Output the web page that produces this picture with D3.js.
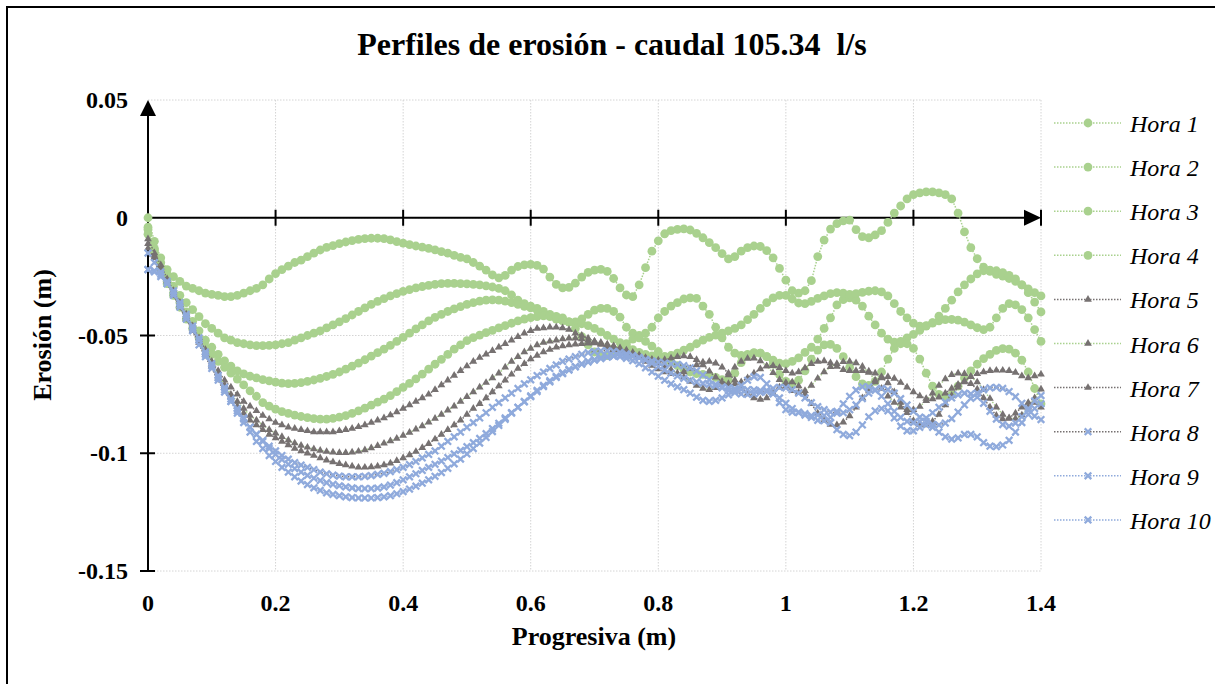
<!DOCTYPE html>
<html>
<head>
<meta charset="utf-8">
<script src="https://cdn.jsdelivr.net/npm/d3@7"></script>
<style>
  html, body { margin: 0; padding: 0; background: #ffffff; }
  svg { display: block; }
  text { font-family: "Liberation Serif", "Times New Roman", serif; fill: #000; }
</style>
</head>
<body>
<svg id="chart" width="1215" height="684"></svg>
<script>
// Stations along the channel (m)
const progresiva = [
  0, 0.01, 0.02, 0.03, 0.04, 0.05, 0.06, 0.07, 0.08, 0.09,
  0.10, 0.11, 0.12, 0.13, 0.14, 0.15, 0.16, 0.17, 0.18, 0.19,
  0.20, 0.21, 0.22, 0.23, 0.24, 0.25, 0.26, 0.27, 0.28, 0.29,
  0.30, 0.31, 0.32, 0.33, 0.34, 0.35, 0.36, 0.37, 0.38, 0.39,
  0.40, 0.41, 0.42, 0.43, 0.44, 0.45, 0.46, 0.47, 0.48, 0.49,
  0.50, 0.51, 0.52, 0.53, 0.54, 0.55, 0.56, 0.57, 0.58, 0.59,
  0.60, 0.61, 0.62, 0.63, 0.64, 0.65, 0.66, 0.67, 0.68, 0.69,
  0.70, 0.71, 0.72, 0.73, 0.74, 0.75, 0.76, 0.77, 0.78, 0.79,
  0.80, 0.81, 0.82, 0.83, 0.84, 0.85, 0.86, 0.87, 0.88, 0.89,
  0.90, 0.91, 0.92, 0.93, 0.94, 0.95, 0.96, 0.97, 0.98, 0.99,
  1.00, 1.01, 1.02, 1.03, 1.04, 1.05, 1.06, 1.07, 1.08, 1.09,
  1.10, 1.11, 1.12, 1.13, 1.14, 1.15, 1.16, 1.17, 1.18, 1.19,
  1.20, 1.21, 1.22, 1.23, 1.24, 1.25, 1.26, 1.27, 1.28, 1.29,
  1.30, 1.31, 1.32, 1.33, 1.34, 1.35, 1.36, 1.37, 1.38, 1.39,
  1.40
];

// Erosion profiles (m), one array per hour
const hora1 = [
  0, -0.010, -0.017, -0.022, -0.025, -0.027, -0.029, -0.030, -0.031, -0.032,
  -0.0325, -0.033, -0.0335, -0.0335, -0.033, -0.032, -0.031, -0.030, -0.0285, -0.026,
  -0.0237, -0.022, -0.0205, -0.019, -0.018, -0.0165, -0.015, -0.0137, -0.0126, -0.0118,
  -0.011, -0.0103, -0.0097, -0.0092, -0.0089, -0.0087, -0.0087, -0.0089, -0.0094, -0.0101,
  -0.0108, -0.0114, -0.012, -0.0125, -0.013, -0.0136, -0.0144, -0.015, -0.016, -0.0168,
  -0.0175, -0.019, -0.0205, -0.0222, -0.0243, -0.0255, -0.0245, -0.0222, -0.0207, -0.020,
  -0.0198, -0.0202, -0.0218, -0.0252, -0.0283, -0.0298, -0.0296, -0.0278, -0.0252, -0.0232,
  -0.0222, -0.0219, -0.0228, -0.0258, -0.0298, -0.0328, -0.0335, -0.0285, -0.0212, -0.0142,
  -0.0098, -0.0068, -0.0055, -0.0049, -0.0047, -0.0052, -0.0066, -0.0085, -0.0106, -0.0127,
  -0.0152, -0.0175, -0.0165, -0.0142, -0.0127, -0.012, -0.0122, -0.014, -0.017, -0.0215,
  -0.0265, -0.031, -0.032, -0.031, -0.0267, -0.0165, -0.0095, -0.0048, -0.0025, -0.0013,
  -0.001, -0.005, -0.008, -0.0085, -0.0073, -0.0055, -0.002, 0.002, 0.005, 0.008,
  0.0098, 0.0106, 0.011, 0.011, 0.0106, 0.0098, 0.008, 0.002, -0.006, -0.0127,
  -0.0174, -0.021, -0.0228, -0.024, -0.0248, -0.0258, -0.027, -0.0285, -0.0302, -0.0318,
  -0.0332
];
const hora2 = [
  -0.004, -0.013, -0.019, -0.024, -0.029, -0.033, -0.036, -0.039, -0.042, -0.045,
  -0.047, -0.049, -0.051, -0.052, -0.053, -0.0535, -0.054, -0.0543, -0.0543, -0.0542,
  -0.054, -0.0535, -0.053, -0.052, -0.051, -0.050, -0.049, -0.048, -0.0468, -0.0455,
  -0.0442, -0.0428, -0.0413, -0.0398, -0.0383, -0.0368, -0.0355, -0.0343, -0.0332, -0.0322,
  -0.0313, -0.0305, -0.0298, -0.0292, -0.0287, -0.0283, -0.028, -0.0279, -0.0279, -0.028,
  -0.0281, -0.0283, -0.0285, -0.0289, -0.0294, -0.030, -0.031, -0.0328, -0.035, -0.0365,
  -0.0375, -0.0385, -0.0398, -0.041, -0.0425, -0.0437, -0.0443, -0.0442, -0.043, -0.041,
  -0.0392, -0.0385, -0.0385, -0.0398, -0.0422, -0.0465, -0.049, -0.050, -0.049, -0.0465,
  -0.0425, -0.0398, -0.0375, -0.036, -0.0345, -0.034, -0.0342, -0.0375, -0.041, -0.0465,
  -0.051, -0.055, -0.0575, -0.0585, -0.058, -0.0573, -0.0575, -0.059, -0.0605, -0.0617,
  -0.062, -0.061, -0.0595, -0.0572, -0.055, -0.0515, -0.047, -0.0425, -0.037, -0.0348,
  -0.034, -0.035, -0.0375, -0.0418, -0.0455, -0.049, -0.0515, -0.0528, -0.0525, -0.051,
  -0.0495, -0.0478, -0.046, -0.0447, -0.0438, -0.0433, -0.0432, -0.0435, -0.0443, -0.0455,
  -0.0467, -0.0475, -0.0465, -0.0425, -0.0385, -0.0365, -0.037, -0.039, -0.0425, -0.0475,
  -0.0525
];
const hora3 = [
  -0.005, -0.014, -0.021, -0.027, -0.032, -0.036, -0.040, -0.044, -0.048, -0.052,
  -0.055, -0.058, -0.0608, -0.063, -0.065, -0.0663, -0.0673, -0.068, -0.0687, -0.0693,
  -0.0698, -0.0702, -0.0704, -0.0703, -0.070, -0.0695, -0.0689, -0.0682, -0.0674, -0.0665,
  -0.0655, -0.0643, -0.063, -0.0617, -0.0603, -0.0588, -0.0573, -0.0558, -0.0542, -0.0525,
  -0.0508, -0.049, -0.0472, -0.0455, -0.0438, -0.0423, -0.041, -0.0398, -0.0387, -0.0377,
  -0.0368, -0.036, -0.0354, -0.035, -0.0349, -0.035, -0.0354, -0.036, -0.0368, -0.0376,
  -0.0383, -0.0392, -0.0405, -0.042, -0.043, -0.0437, -0.0442, -0.0447, -0.045, -0.0458,
  -0.047, -0.0485, -0.050, -0.0515, -0.053, -0.0545, -0.056, -0.0572, -0.058, -0.0587,
  -0.059, -0.059, -0.0585, -0.0575, -0.0562, -0.055, -0.0535, -0.052, -0.0508, -0.0498,
  -0.049, -0.048, -0.047, -0.0455, -0.0433, -0.041, -0.0385, -0.036, -0.034, -0.033,
  -0.033, -0.0345, -0.0362, -0.0365, -0.0355, -0.0342, -0.0332, -0.0322, -0.0318, -0.032,
  -0.0325, -0.0322, -0.0317, -0.0312, -0.031, -0.0315, -0.0332, -0.0365, -0.0398, -0.0425,
  -0.0448, -0.046, -0.0458, -0.0445, -0.0418, -0.0385, -0.035, -0.0315, -0.0285, -0.026,
  -0.0238, -0.0225, -0.0222, -0.0225, -0.0233, -0.0245, -0.026, -0.0285, -0.0318, -0.0358,
  -0.040
];
const hora4 = [
  -0.007, -0.015, -0.022, -0.028, -0.033, -0.038, -0.043, -0.047, -0.051, -0.055,
  -0.058, -0.061, -0.0635, -0.066, -0.0685, -0.071, -0.0735, -0.0758, -0.0785, -0.080,
  -0.0813, -0.0823, -0.0831, -0.0838, -0.0844, -0.0849, -0.0853, -0.0855, -0.0855, -0.0852,
  -0.0847, -0.084, -0.0831, -0.082, -0.0808, -0.0796, -0.0783, -0.077, -0.0755, -0.0738,
  -0.072, -0.0703, -0.0684, -0.0664, -0.0643, -0.0622, -0.0601, -0.058, -0.0558, -0.054,
  -0.0522, -0.0509, -0.0498, -0.0488, -0.0478, -0.0468, -0.0458, -0.0448, -0.0438, -0.043,
  -0.0424, -0.042, -0.0417, -0.0416, -0.0419, -0.0425, -0.0442, -0.047, -0.0505, -0.054,
  -0.057, -0.0585, -0.0585, -0.0575, -0.0558, -0.0535, -0.0515, -0.051, -0.0525, -0.0545,
  -0.0568, -0.059, -0.0612, -0.0628, -0.0643, -0.0655, -0.0662, -0.0665, -0.0668, -0.0678,
  -0.0688, -0.069, -0.066, -0.0615, -0.0585, -0.0575, -0.0575, -0.059, -0.0622, -0.0665,
  -0.0695, -0.0705, -0.069, -0.065, -0.060, -0.0562, -0.054, -0.0538, -0.0555, -0.059,
  -0.0635, -0.0675, -0.0705, -0.0712, -0.0695, -0.0655, -0.060, -0.0555, -0.0535, -0.0535,
  -0.0555, -0.060, -0.066, -0.0715, -0.075, -0.0762, -0.0752, -0.0715, -0.068, -0.065,
  -0.0622, -0.0598, -0.058, -0.0563, -0.0556, -0.0558, -0.0575, -0.0605, -0.0655, -0.0725,
  -0.079
];
const hora5 = [
  -0.009, -0.015, -0.020, -0.026, -0.031, -0.036, -0.041, -0.046, -0.051, -0.056,
  -0.061, -0.065, -0.069, -0.072, -0.075, -0.078, -0.080, -0.082, -0.084, -0.0855,
  -0.087, -0.088, -0.089, -0.0895, -0.090, -0.0905, -0.091, -0.091, -0.091, -0.091,
  -0.0905, -0.090, -0.0895, -0.0888, -0.088, -0.087, -0.086, -0.085, -0.0838, -0.0825,
  -0.081, -0.0795, -0.078, -0.0765, -0.075, -0.073, -0.071, -0.069, -0.067, -0.065,
  -0.063, -0.061, -0.0594, -0.058, -0.0565, -0.055, -0.0535, -0.052, -0.0505, -0.049,
  -0.048, -0.047, -0.0468, -0.0465, -0.0465, -0.0468, -0.0475, -0.049, -0.050, -0.0512,
  -0.0525, -0.0538, -0.055, -0.0562, -0.0572, -0.058, -0.0587, -0.0593, -0.0598, -0.0602,
  -0.0605, -0.0603, -0.0597, -0.059, -0.0587, -0.059, -0.0603, -0.0625, -0.0652, -0.0677,
  -0.0695, -0.0705, -0.0706, -0.0697, -0.068, -0.066, -0.0642, -0.063, -0.0628, -0.0637,
  -0.065, -0.066, -0.0655, -0.0638, -0.062, -0.061, -0.0608, -0.0617, -0.0632, -0.0645,
  -0.065, -0.065, -0.065, -0.0652, -0.066, -0.0675, -0.0702, -0.074, -0.0785, -0.0828,
  -0.0862, -0.0878, -0.088, -0.0865, -0.0835, -0.0795, -0.0755, -0.072, -0.0693, -0.0675,
  -0.0663, -0.0655, -0.065, -0.0648, -0.0648, -0.065, -0.0657, -0.0672, -0.068, -0.0672,
  -0.0665
];
const hora6 = [
  -0.011, -0.016, -0.021, -0.027, -0.032, -0.037, -0.042, -0.047, -0.052, -0.057,
  -0.062, -0.067, -0.071, -0.075, -0.078, -0.081, -0.084, -0.086, -0.088, -0.090,
  -0.0915, -0.093, -0.0945, -0.0957, -0.0967, -0.0975, -0.0982, -0.0988, -0.0993, -0.0996,
  -0.0998, -0.0998, -0.0996, -0.0992, -0.0986, -0.0978, -0.0968, -0.0958, -0.0948, -0.0937,
  -0.0925, -0.0912, -0.0898, -0.0884, -0.0868, -0.0852, -0.0835, -0.0817, -0.080, -0.078,
  -0.076, -0.074, -0.072, -0.070, -0.068, -0.066, -0.0635, -0.061, -0.059, -0.057,
  -0.0555, -0.054, -0.053, -0.0525, -0.052, -0.0515, -0.0512, -0.0512, -0.0515, -0.052,
  -0.0525, -0.053, -0.0537, -0.0545, -0.0553, -0.0562, -0.0572, -0.0583, -0.0594, -0.0605,
  -0.0617, -0.063, -0.0645, -0.066, -0.0677, -0.0695, -0.0712, -0.0725, -0.073, -0.0722,
  -0.070, -0.0668, -0.0635, -0.061, -0.0598, -0.0597, -0.0608, -0.063, -0.0658, -0.0688,
  -0.0715, -0.0735, -0.0742, -0.0735, -0.0712, -0.0682, -0.0655, -0.0633, -0.062, -0.0612,
  -0.061, -0.0617, -0.0632, -0.0657, -0.069, -0.0725, -0.0758, -0.0785, -0.0805, -0.0815,
  -0.0815, -0.0802, -0.0777, -0.0745, -0.0712, -0.0685, -0.0667, -0.066, -0.0662, -0.0675,
  -0.0698, -0.073, -0.0768, -0.0805, -0.0835, -0.0852, -0.0853, -0.0838, -0.0805, -0.0765,
  -0.0728
];
const hora7 = [
  -0.013, -0.017, -0.022, -0.027, -0.033, -0.038, -0.043, -0.048, -0.053, -0.058,
  -0.063, -0.068, -0.072, -0.076, -0.080, -0.083, -0.086, -0.088, -0.090, -0.092,
  -0.0935, -0.095, -0.0965, -0.098, -0.099, -0.100, -0.101, -0.102, -0.103, -0.1037,
  -0.1045, -0.105, -0.1055, -0.106, -0.106, -0.1058, -0.1055, -0.105, -0.1042, -0.1032,
  -0.102, -0.1007, -0.0993, -0.0977, -0.096, -0.094, -0.092, -0.090, -0.088, -0.086,
  -0.0835, -0.081, -0.079, -0.0765, -0.074, -0.0715, -0.069, -0.0665, -0.064, -0.062,
  -0.060, -0.0585, -0.057, -0.056, -0.055, -0.0545, -0.054, -0.0537, -0.0535, -0.0533,
  -0.0532, -0.0535, -0.054, -0.0548, -0.0557, -0.0568, -0.058, -0.0595, -0.061, -0.0627,
  -0.0642, -0.0655, -0.0662, -0.0663, -0.0655, -0.064, -0.0625, -0.0613, -0.061, -0.0618,
  -0.0635, -0.066, -0.069, -0.072, -0.0748, -0.0765, -0.0772, -0.0765, -0.0745, -0.072,
  -0.070, -0.0698, -0.0715, -0.0748, -0.079, -0.083, -0.086, -0.0878, -0.088, -0.0868,
  -0.0842, -0.0805, -0.0765, -0.0728, -0.0698, -0.068, -0.0675, -0.0683, -0.070, -0.072,
  -0.074, -0.0757, -0.0768, -0.077, -0.0762, -0.0745, -0.0725, -0.0708, -0.0698, -0.0705,
  -0.0728, -0.0765, -0.0805, -0.084, -0.0855, -0.085, -0.083, -0.0805, -0.0785, -0.0785,
  -0.0805
];
const hora8 = [
  -0.015, -0.019, -0.023, -0.028, -0.033, -0.038, -0.043, -0.048, -0.054, -0.059,
  -0.064, -0.069, -0.074, -0.078, -0.082, -0.0855, -0.089, -0.092, -0.0945, -0.097,
  -0.099, -0.101, -0.1025, -0.104, -0.105, -0.106, -0.107, -0.108, -0.1087, -0.1093,
  -0.1097, -0.110, -0.110, -0.110, -0.1098, -0.1095, -0.109, -0.1085, -0.1078, -0.107,
  -0.106, -0.1048, -0.1035, -0.102, -0.1005, -0.099, -0.097, -0.095, -0.093, -0.091,
  -0.089, -0.087, -0.085, -0.0828, -0.0805, -0.0785, -0.0765, -0.0745, -0.0725, -0.0705,
  -0.0688, -0.067, -0.0655, -0.064, -0.0625, -0.061, -0.060, -0.059, -0.058, -0.0573,
  -0.0568, -0.0565, -0.0565, -0.0567, -0.0572, -0.0578, -0.0585, -0.0593, -0.0601, -0.0608,
  -0.0613, -0.0617, -0.062, -0.0623, -0.0628, -0.0637, -0.065, -0.0668, -0.0688, -0.0707,
  -0.0722, -0.0735, -0.0743, -0.0748, -0.075, -0.0748, -0.0742, -0.0733, -0.0725, -0.072,
  -0.0722, -0.073, -0.0745, -0.0765, -0.0785, -0.0802, -0.0815, -0.0825, -0.083, -0.0828,
  -0.0815, -0.0795, -0.0768, -0.0745, -0.073, -0.0725, -0.073, -0.0745, -0.0768, -0.0795,
  -0.0822, -0.0847, -0.0865, -0.0877, -0.088, -0.0872, -0.0853, -0.0825, -0.0795, -0.0767,
  -0.0745, -0.073, -0.0722, -0.072, -0.0725, -0.0738, -0.076, -0.0788, -0.0818, -0.0842,
  -0.0857
];
const hora9 = [
  -0.022, -0.0225, -0.024, -0.027, -0.031, -0.036, -0.041, -0.046, -0.051, -0.057,
  -0.062, -0.067, -0.072, -0.077, -0.081, -0.085, -0.089, -0.092, -0.095, -0.098,
  -0.1005, -0.1027, -0.1047, -0.1065, -0.108, -0.1094, -0.1106, -0.1116, -0.1125, -0.1132,
  -0.1138, -0.1143, -0.1147, -0.115, -0.115, -0.115, -0.1148, -0.1143, -0.1135, -0.1125,
  -0.1113, -0.110, -0.1087, -0.1073, -0.106, -0.1047, -0.1033, -0.1018, -0.1003, -0.0988,
  -0.0972, -0.0955, -0.0937, -0.0917, -0.0895, -0.0873, -0.085, -0.0827, -0.0805, -0.0782,
  -0.076, -0.0738, -0.0717, -0.0697, -0.0678, -0.0662, -0.0647, -0.0633, -0.062, -0.061,
  -0.0602, -0.0595, -0.059, -0.0587, -0.059, -0.0597, -0.0607, -0.062, -0.0637, -0.0655,
  -0.0673, -0.069, -0.0705, -0.0718, -0.073, -0.0745, -0.0762, -0.0775, -0.078, -0.0775,
  -0.0765, -0.0752, -0.0735, -0.0712, -0.069, -0.0675, -0.0678, -0.0705, -0.0745, -0.0785,
  -0.0815, -0.0825, -0.0825, -0.0832, -0.0848, -0.086, -0.0862, -0.0848, -0.0822, -0.079,
  -0.0758, -0.0732, -0.0718, -0.0718, -0.0733, -0.0758, -0.079, -0.0822, -0.0848, -0.0865,
  -0.087, -0.0865, -0.085, -0.0828, -0.0805, -0.0783, -0.0765, -0.0752, -0.0745, -0.0748,
  -0.0762, -0.0788, -0.0822, -0.0855, -0.0878, -0.0885, -0.0872, -0.0845, -0.081, -0.0778,
  -0.0755
];
const hora10 = [
  -0.022, -0.023, -0.025, -0.028, -0.032, -0.037, -0.042, -0.047, -0.052, -0.058,
  -0.063, -0.068, -0.073, -0.078, -0.083, -0.087, -0.091, -0.095, -0.098, -0.101,
  -0.1035, -0.106, -0.108, -0.110, -0.1118, -0.1133, -0.1147, -0.1158, -0.1168, -0.1175,
  -0.118, -0.1185, -0.1188, -0.119, -0.119, -0.119, -0.1188, -0.1185, -0.118, -0.1172,
  -0.1163, -0.1152, -0.114, -0.1127, -0.1113, -0.1098, -0.1082, -0.1064, -0.1045, -0.1025,
  -0.1003, -0.098, -0.0957, -0.0933, -0.0908, -0.0882, -0.0856, -0.083, -0.0805, -0.078,
  -0.0756, -0.0733, -0.0712, -0.0692, -0.0674, -0.0658, -0.0644, -0.0632, -0.0622, -0.0613,
  -0.0605, -0.0598, -0.0592, -0.0588, -0.0585, -0.0585, -0.0588, -0.0595, -0.0605, -0.0618,
  -0.0632, -0.0647, -0.066, -0.0672, -0.0682, -0.069, -0.0697, -0.0703, -0.0708, -0.0713,
  -0.0718, -0.0722, -0.0726, -0.0729, -0.073, -0.0731, -0.0733, -0.0738, -0.0748, -0.0765,
  -0.0788, -0.081, -0.0828, -0.0838, -0.084, -0.0838, -0.084, -0.087, -0.090, -0.092,
  -0.0925, -0.091, -0.088, -0.0845, -0.082, -0.081, -0.082, -0.085, -0.0885, -0.0905,
  -0.0905, -0.089, -0.088, -0.089, -0.091, -0.093, -0.094, -0.0935, -0.092, -0.092,
  -0.093, -0.0955, -0.097, -0.0972, -0.0965, -0.0945, -0.091, -0.087, -0.0835, -0.081,
  -0.079
];

const seriesNames = ["Hora 1", "Hora 2", "Hora 3", "Hora 4", "Hora 5",
                     "Hora 6", "Hora 7", "Hora 8", "Hora 9", "Hora 10"];
const seriesValues = [hora1, hora2, hora3, hora4, hora5, hora6, hora7, hora8, hora9, hora10];

const xTicks = [0, 0.2, 0.4, 0.6, 0.8, 1, 1.2, 1.4];
const xTickLabels = ["0", "0.2", "0.4", "0.6", "0.8", "1", "1.2", "1.4"];
const yTicks = [0.05, 0, -0.05, -0.1, -0.15];
const yTickLabels = ["0.05", "0", "-0.05", "-0.1", "-0.15"];

const chartTitle = "Perfiles de erosión - caudal 105.34  l/s";
const xTitle = "Progresiva (m)";
const yTitle = "Erosión (m)";

// Colours and marker shapes
const GREEN = "#A9D18E", GREY = "#767171", BLUE = "#8FAADC";
const seriesStyle = [
  { line: GREEN, mark: GREEN, shape: "circle" },
  { line: GREEN, mark: GREEN, shape: "circle" },
  { line: GREEN, mark: GREEN, shape: "circle" },
  { line: GREEN, mark: GREEN, shape: "circle" },
  { line: GREY,  mark: GREY,  shape: "triangle" },
  { line: GREEN, mark: GREY,  shape: "triangle" },
  { line: GREY,  mark: GREY,  shape: "triangle" },
  { line: GREY,  mark: BLUE,  shape: "cross" },
  { line: BLUE,  mark: BLUE,  shape: "cross" },
  { line: BLUE,  mark: BLUE,  shape: "cross" }
];

const svg = d3.select("#chart");

// Outer frame
svg.append("rect")
  .attr("x", 7).attr("y", 7).attr("width", 1240).attr("height", 720)
  .attr("fill", "none").attr("stroke", "#000").attr("stroke-width", 2);

const x = d3.scaleLinear().domain([0, 1.4]).range([148, 1041]);
const y = d3.scaleLinear().domain([-0.15, 0.05]).range([571, 100]);

// Gridlines
const grid = svg.append("g").attr("stroke", "#d4d4d4").attr("stroke-width", 1)
  .attr("stroke-dasharray", "1.5,1.5");
grid.selectAll("line.v").data(xTicks.slice(1)).join("line")
  .attr("x1", d => x(d)).attr("x2", d => x(d))
  .attr("y1", y(0.05)).attr("y2", y(-0.15));
grid.selectAll("line.h").data(yTicks).join("line")
  .attr("x1", x(0)).attr("x2", x(1.4))
  .attr("y1", d => y(d)).attr("y2", d => y(d));

// Axes: vertical at x = 0, horizontal at erosion = 0
const axes = svg.append("g").attr("stroke", "#000").attr("stroke-width", 2);
axes.append("line").attr("x1", x(0)).attr("x2", x(0))
  .attr("y1", y(0.05) + 14).attr("y2", y(-0.15));
axes.append("line").attr("x1", x(0)).attr("x2", x(1.4) - 14)
  .attr("y1", y(0)).attr("y2", y(0));
axes.selectAll("line.yt").data(yTicks.filter(d => d !== 0 && d !== 0.05)).join("line")
  .attr("x1", x(0) - 8).attr("x2", x(0) + 7)
  .attr("y1", d => y(d)).attr("y2", d => y(d));
axes.selectAll("line.xt").data(xTicks.slice(1)).join("line")
  .attr("x1", d => x(d)).attr("x2", d => x(d))
  .attr("y1", y(0) - 8).attr("y2", y(0) + 8);
// Arrowheads
svg.append("path")
  .attr("d", `M${x(0)},${y(0.05)} L${x(0) - 8},${y(0.05) + 16} L${x(0) + 8},${y(0.05) + 16} Z`)
  .attr("fill", "#000");
svg.append("path")
  .attr("d", `M${x(1.4)},${y(0)} L${x(1.4) - 17},${y(0) - 8} L${x(1.4) - 17},${y(0) + 8} Z`)
  .attr("fill", "#000");

// Tick labels
svg.append("g").selectAll("text").data(yTicks).join("text")
  .attr("x", 128).attr("y", d => y(d) + 8)
  .attr("text-anchor", "end")
  .style("font-size", "24px").style("font-weight", "bold")
  .text((d, i) => yTickLabels[i]);
svg.append("g").selectAll("text").data(xTicks).join("text")
  .attr("x", d => x(d)).attr("y", 611)
  .attr("text-anchor", "middle")
  .style("font-size", "24px").style("font-weight", "bold")
  .text((d, i) => xTickLabels[i]);

// Titles
svg.append("text").attr("x", 612).attr("y", 55)
  .attr("text-anchor", "middle")
  .style("font-size", "32px").style("font-weight", "bold").style("white-space", "pre")
  .text(chartTitle);
svg.append("text").attr("x", 594).attr("y", 645)
  .attr("text-anchor", "middle")
  .style("font-size", "26px").style("font-weight", "bold")
  .text(xTitle);
svg.append("text").attr("transform", "translate(51,335) rotate(-90)")
  .attr("text-anchor", "middle")
  .style("font-size", "26px").style("font-weight", "bold")
  .text(yTitle);

// Marker drawing
function drawMarker(sel, shape, colour) {
  if (shape === "circle") {
    sel.append("circle").attr("r", 4.4).attr("fill", colour);
  } else if (shape === "triangle") {
    sel.append("path").attr("d", d3.symbol(d3.symbolTriangle, 26)()).attr("fill", colour);
  } else {
    sel.append("path").attr("d", "M-3.3,-3.3L3.3,3.3M-3.3,3.3L3.3,-3.3")
      .attr("stroke", colour).attr("stroke-width", 2.3).attr("fill", "none");
  }
}

const lineGen = d3.line().x(d => x(d[0])).y(d => y(d[1]));

// Series
seriesValues.forEach((vals, i) => {
  const st = seriesStyle[i];
  const pts = progresiva.map((p, k) => [p, vals[k]]);
  const g = svg.append("g");
  g.append("path").attr("d", lineGen(pts))
    .attr("fill", "none").attr("stroke", st.line).attr("stroke-width", 1.5)
    .attr("stroke-dasharray", "1.5,1.5");
  g.selectAll("g.m").data(pts).join("g")
    .attr("transform", d => `translate(${x(d[0])},${y(d[1])})`)
    .each(function () { drawMarker(d3.select(this), st.shape, st.mark); });
});

// Legend
const legend = svg.append("g");
seriesNames.forEach((name, i) => {
  const cy = 123 + i * 44.1;
  const st = seriesStyle[i];
  legend.append("line").attr("x1", 1054).attr("x2", 1121).attr("y1", cy).attr("y2", cy)
    .attr("stroke", st.line).attr("stroke-width", 1.5).attr("stroke-dasharray", "1.5,1.5");
  const m = legend.append("g").attr("transform", `translate(1088,${cy})`);
  drawMarker(m, st.shape, st.mark);
  legend.append("text").attr("x", 1130).attr("y", cy + 9)
    .style("font-size", "24px").style("font-style", "italic")
    .text(name);
});
</script>
</body>
</html>
